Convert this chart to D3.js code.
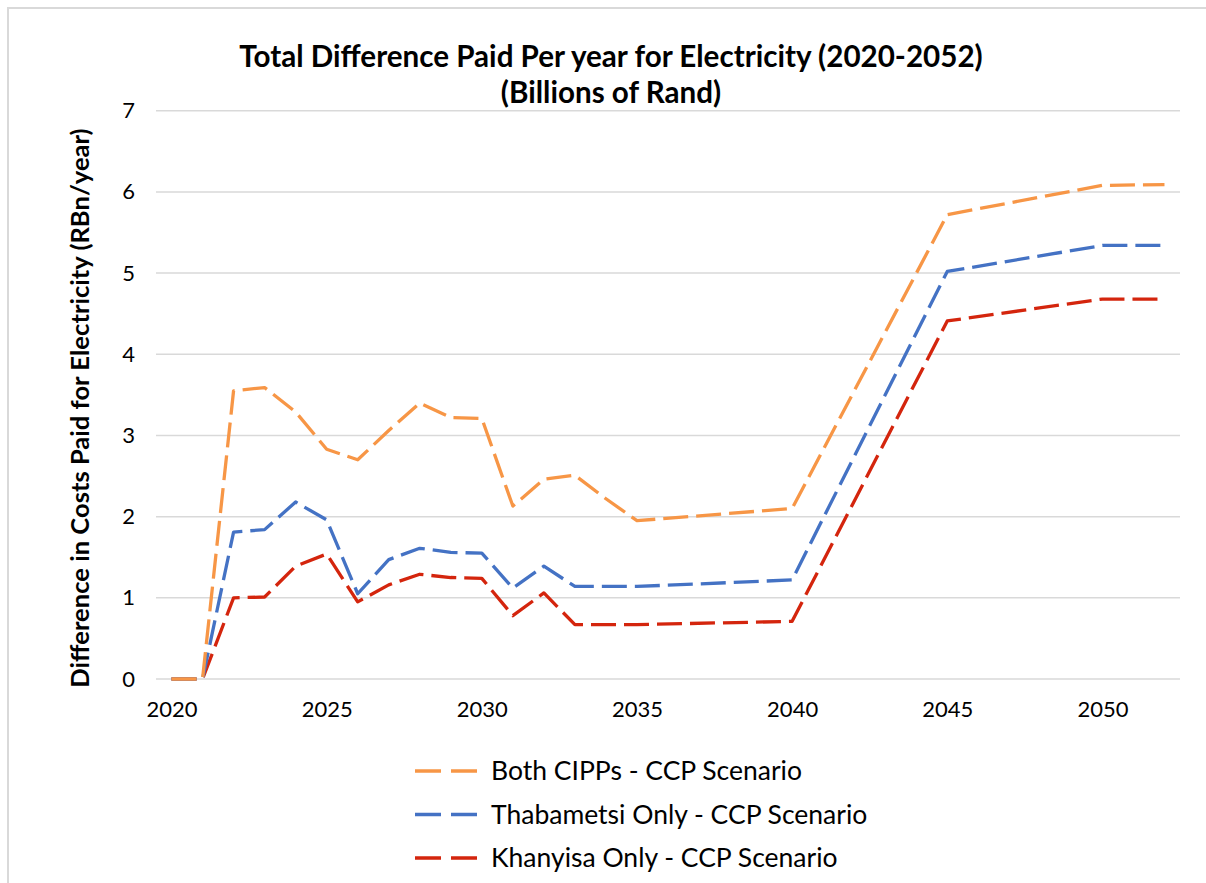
<!DOCTYPE html>
<html>
<head>
<meta charset="utf-8">
<script src="https://cdn.jsdelivr.net/npm/d3@7"></script>
<style>
  body { margin: 0; background: #fff; }
  svg { display: block; }
</style>
</head>
<body>
<div id="chart"></div>
<script>
// values (RBn/year); straight runs keep only their end points
var years = [2020, 2021, 2022, 2023, 2024, 2025, 2026, 2027, 2028, 2029, 2030,
             2031, 2032, 2033, 2034, 2035, 2040, 2045, 2050, 2052];
var bothCipps = [0, 0, 3.55, 3.59, 3.29, 2.83, 2.70, 3.06, 3.40, 3.22, 3.21,
                 2.13, 2.46, 2.51, 2.22, 1.95, 2.10, 5.72, 6.08, 6.09];
var thabametsi = [0, 0, 1.81, 1.84, 2.18, 1.96, 1.05, 1.47, 1.61, 1.56, 1.55,
                  1.12, 1.39, 1.14, 1.14, 1.14, 1.22, 5.02, 5.34, 5.34];
var khanyisa = [0, 0, 1.00, 1.01, 1.39, 1.54, 0.95, 1.16, 1.29, 1.25, 1.24,
                0.78, 1.06, 0.67, 0.67, 0.67, 0.71, 4.41, 4.68, 4.68];
var seriesNames = ["Both CIPPs - CCP Scenario", "Thabametsi Only - CCP Scenario", "Khanyisa Only - CCP Scenario"];
var seriesColors = ["#F79646", "#4472C4", "#D4250D"];
var xTicks = [2020, 2025, 2030, 2035, 2040, 2045, 2050];
var yTicks = [0, 1, 2, 3, 4, 5, 6, 7];

var width = 1206, height = 883;
var font = "Lato, 'Open Sans', sans-serif";

var svg = d3.select("#chart").append("svg")
  .attr("width", width)
  .attr("height", height);

// chart frame
svg.append("rect")
  .attr("x", 8).attr("y", 8)
  .attr("width", 1220).attr("height", 900)
  .style("fill", "#fff")
  .style("stroke", "#d9d9d9")
  .style("stroke-width", 2);

// each year is a category slot, points sit in the middle
var x = d3.scaleLinear().domain([2019.5, 2052.5]).range([156, 1180]);
var y = d3.scaleLinear().domain([0, 7]).range([679, 110.7]);

// gridlines
svg.append("g")
  .selectAll("line")
  .data(yTicks)
  .enter()
  .append("line")
  .attr("x1", x.range()[0])
  .attr("x2", x.range()[1])
  .attr("y1", function(d){ return y(d); })
  .attr("y2", function(d){ return y(d); })
  .style("stroke", "#d9d9d9")
  .style("stroke-width", 1.5);

// y axis labels
var yAxis = svg.append("g")
  .attr("transform", "translate(" + 141 + ",0)")
  .call(d3.axisLeft(y).tickValues(yTicks).tickFormat(d3.format("d")).tickSize(0).tickPadding(6));
yAxis.select(".domain").remove();
yAxis.selectAll("text")
  .style("font-family", font)
  .style("font-size", "22px")
  .style("fill", "#000");

// x axis labels
var xAxis = svg.append("g")
  .attr("transform", "translate(0," + 698 + ")")
  .call(d3.axisBottom(x).tickValues(xTicks).tickFormat(d3.format("d")).tickSize(0).tickPadding(3));
xAxis.select(".domain").remove();
xAxis.selectAll("text")
  .style("font-family", font)
  .style("font-size", "22px")
  .style("fill", "#000");

// lines
var allSeries = [bothCipps, thabametsi, khanyisa];
var line = d3.line()
  .x(function(d, i){ return x(years[i]); })
  .y(function(d){ return y(d); });

svg.append("g")
  .selectAll("path")
  .data(allSeries.slice().reverse())
  .enter()
  .append("path")
  .attr("d", function(d){ return line(d); })
  .style("fill", "none")
  .style("stroke", function(d, i){ return seriesColors[2 - i]; })
  .style("stroke-width", 3.3)
  .style("stroke-dasharray", "25,8")
  .style("stroke-linejoin", "round");

// title
var title = svg.append("text")
  .attr("x", 611)
  .attr("text-anchor", "middle")
  .style("font-family", font)
  .style("font-weight", "bold")
  .style("font-size", "29.6px")
  .style("fill", "#000");
title.append("tspan").attr("x", 611).attr("y", 67)
  .text("Total Difference Paid Per year for Electricity (2020-2052)");
title.append("tspan").attr("x", 611).attr("y", 103)
  .text("(Billions of Rand)");

// y axis title
svg.append("text")
  .attr("transform", "translate(80," + 408 + ") rotate(-90)")
  .attr("text-anchor", "middle")
  .attr("dy", "0.35em")
  .style("font-family", font)
  .style("font-weight", "bold")
  .style("font-size", "25.6px")
  .style("fill", "#000")
  .text("Difference in Costs Paid for Electricity (RBn/year)");

// legend
var legend = svg.append("g")
  .selectAll("g")
  .data(seriesNames)
  .enter()
  .append("g")
  .attr("transform", function(d, i){ return "translate(415," + (771 + i * 43.5) + ")"; });

legend.append("line")
  .attr("x1", 0).attr("x2", 63)
  .attr("y1", 0).attr("y2", 0)
  .style("stroke", function(d, i){ return seriesColors[i]; })
  .style("stroke-width", 3.3)
  .style("stroke-dasharray", "26,10");

legend.append("text")
  .attr("x", 76)
  .attr("y", 0)
  .attr("dy", "0.35em")
  .style("font-family", font)
  .style("font-size", "26.5px")
  .style("fill", "#000")
  .text(function(d){ return d; });
</script>
</body>
</html>
